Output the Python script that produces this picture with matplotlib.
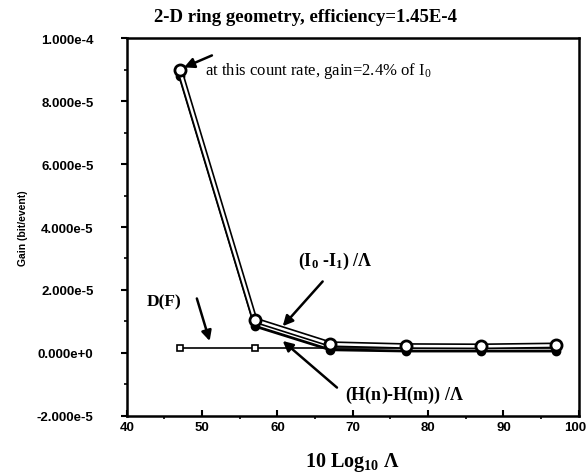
import matplotlib.pyplot as plt
from matplotlib.ticker import MultipleLocator
from matplotlib.transforms import ScaledTranslation

# data
x = [47, 57, 67, 77, 87, 97]
i0_i1 = [9.0e-5, 1.04e-5, 2.8e-6, 2.2e-6, 2.1e-6, 2.4e-6]
h_diff = [8.8e-5, 8.5e-6, 1.0e-6, 6e-7, 6e-7, 6e-7]
d_f = [1.5e-6, 1.5e-6, 1.5e-6, 1.5e-6, 1.5e-6, 1.5e-6]

y_ticks = [-2e-5, 0, 2e-5, 4e-5, 6e-5, 8e-5, 1e-4]
y_labels = ["-2.000e-5", "0.000e+0", "2.000e-5", "4.000e-5", "6.000e-5", "8.000e-5", "1.000e-4"]

serif = "Liberation Serif"
sans = "Liberation Sans"
plt.rcParams["mathtext.fontset"] = "custom"
plt.rcParams["mathtext.rm"] = serif
plt.rcParams["mathtext.bf"] = serif + ":bold"
plt.rcParams["mathtext.it"] = serif + ":italic"

fig = plt.figure(figsize=(5.87, 4.77), dpi=100)
ax = fig.add_axes([0.216, 0.126, 0.770, 0.792])

# D(F): thin line with small squares
ax.plot(x, d_f, color="black", lw=1.2, marker="s", ms=4, mfc="white", mec="black", mew=1.2, zorder=2)
# (H(n)-H(m))/Λ: solid line, filled dots
ax.plot(x, h_diff, color="black", lw=2.0, marker="o", ms=6, mfc="black", mec="black", zorder=3)
# (I0-I1)/Λ: double (outlined) line, open circles
ax.plot(x, i0_i1, color="black", lw=4.2, solid_capstyle="round", zorder=4)
ax.plot(x, i0_i1, color="white", lw=1.8, solid_capstyle="round", zorder=5)
ax.plot(x, i0_i1, ls="none", marker="o", ms=8, mfc="white", mec="black", mew=2, zorder=6)

ax.set_xlim(40, 100)
ax.set_ylim(-2e-5, 1e-4)
ax.set_xticks(range(40, 101, 10))
ax.xaxis.set_minor_locator(MultipleLocator(5))
ax.set_yticks(y_ticks)
ax.set_yticklabels(y_labels)
ax.yaxis.set_minor_locator(MultipleLocator(1e-5))
ax.tick_params(axis="y", which="major", direction="out", length=4, width=1.5, labelsize=9.5, pad=20)
ax.tick_params(axis="x", which="major", direction="in", length=4, width=1.5, labelsize=9.5, pad=4)
ax.tick_params(which="minor", direction="out", length=2, width=1.2)
for lab in ax.get_xticklabels() + ax.get_yticklabels():
    lab.set_fontfamily(sans)
    lab.set_fontweight("bold")
# nudge the last x label so it stays inside the figure
last = ax.get_xticklabels()[-1]
last.set_transform(last.get_transform() + ScaledTranslation(-4 / 100, 0, fig.dpi_scale_trans))
for s in ax.spines.values():
    s.set_linewidth(1.8)

fig.text(305 / 587, 1 - 17 / 477, "2-D ring geometry, efficiency=1.45E-4", fontfamily=serif,
         fontweight="bold", fontsize=13.5, ha="center", va="center")
ax.set_ylabel("Gain (bit/event)", fontfamily=sans, fontweight="bold", fontsize=7.5)
ax.yaxis.set_label_coords(-0.218, 0.5)
ax.set_xlabel(r"10 Log$_{\mathbf{10}}$ $\mathbf{\Lambda}$", fontfamily=serif, fontweight="bold", fontsize=14.5, labelpad=12)

arrow = dict(arrowstyle="-|>", color="black", lw=1.8, mutation_scale=15, shrinkA=0, shrinkB=0)

# annotation texts
ax.text(50.4, 8.98e-5, r"at this count rate, gain=2.4% of I$_\mathrm{0}$",
        fontfamily=serif, fontsize=12, va="center", ha="left")
ax.text(62.7, 2.93e-5, r"(I$_\mathbf{0}$ -I$_\mathbf{1}$) /$\mathbf{\Lambda}$",
        fontfamily=serif, fontweight="bold", fontsize=13, va="center", ha="left")
ax.text(42.7, 1.64e-5, "D(F)", fontfamily=serif, fontweight="bold", fontsize=12.5, va="center", ha="left")
ax.text(68.9, -1.32e-5, r"(H(n)-H(m)) /$\mathbf{\Lambda}$",
        fontfamily=serif, fontweight="bold", fontsize=13, va="center", ha="left")

# arrows
ax.annotate("", xy=(47.6, 9.07e-5), xytext=(51.3, 9.45e-5), arrowprops=arrow)
ax.annotate("", xy=(60.7, 8.5e-6), xytext=(66.0, 2.27e-5), arrowprops=arrow)
ax.annotate("", xy=(51.0, 3.8e-6), xytext=(49.3, 1.73e-5), arrowprops=arrow)
ax.annotate("", xy=(60.7, 3.8e-6), xytext=(67.9, -1.1e-5), arrowprops=arrow)

fig.savefig("out.png", dpi=100)
